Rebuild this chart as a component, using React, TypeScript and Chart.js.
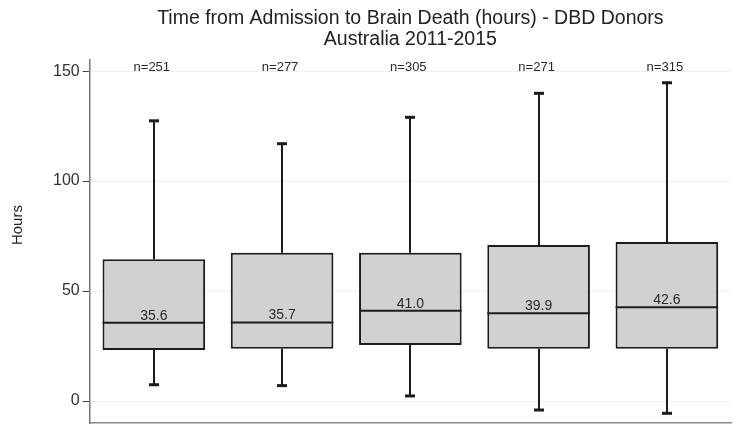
import React, { useEffect, useRef } from "react";
import { Chart, registerables } from "chart.js";

Chart.register(...registerables);

// Admission-to-brain-death times (hours), DBD donors by year
const years = ["2011", "2012", "2013", "2014", "2015"];
const donorCounts = [251, 277, 305, 271, 315];
const whiskerLow = [7.4, 7.0, 2.3, -4.1, -5.6];
const quartile1 = [23.2, 23.8, 25.5, 23.8, 23.8];
const medians = [35.6, 35.7, 41.0, 39.9, 42.6];
const quartile3 = [64.4, 67.4, 67.4, 70.9, 72.3];
const whiskerHigh = [127.4, 117.0, 129.0, 139.9, 144.7];
const yTickValues = [0, 50, 100, 150];
const yAxisTitle = "Hours";

const FONT = "'Liberation Sans', Arial, Helvetica, sans-serif";
const INK = "#1c1c1c";

// Draws whiskers, caps, median lines and the text annotations of each box
const boxDetailsPlugin = {
  id: "boxDetails",
  beforeDatasetsDraw(chart: any) {
    const { ctx, scales } = chart;
    const x = scales.x;
    const y = scales.y;
    ctx.save();
    ctx.strokeStyle = INK;
    years.forEach((_, i) => {
      const cx = Math.round(x.getPixelForValue(i));
      const segs: [number, number][] = [
        [quartile3[i], whiskerHigh[i]],
        [quartile1[i], whiskerLow[i]],
      ];
      segs.forEach(([from, to]) => {
        ctx.lineWidth = 2;
        ctx.beginPath();
        ctx.moveTo(cx, y.getPixelForValue(from));
        ctx.lineTo(cx, y.getPixelForValue(to));
        ctx.stroke();
        ctx.lineWidth = 3;
        ctx.beginPath();
        ctx.moveTo(cx - 5, y.getPixelForValue(to));
        ctx.lineTo(cx + 5, y.getPixelForValue(to));
        ctx.stroke();
      });
    });
    ctx.restore();
  },
  afterDatasetsDraw(chart: any) {
    const { ctx, scales } = chart;
    const x = scales.x;
    const y = scales.y;
    const meta = chart.getDatasetMeta(0);
    ctx.save();
    years.forEach((_, i) => {
      const bar = meta.data[i];
      const half = bar.width / 2;
      const cx = x.getPixelForValue(i);
      const my = y.getPixelForValue(medians[i]);
      ctx.strokeStyle = INK;
      ctx.lineWidth = 2;
      ctx.beginPath();
      ctx.moveTo(cx - half, my);
      ctx.lineTo(cx + half, my);
      ctx.stroke();

      ctx.fillStyle = "#2a2a2a";
      ctx.textAlign = "center";
      ctx.textBaseline = "alphabetic";
      ctx.font = `14px ${FONT}`;
      ctx.fillText(medians[i].toFixed(1), cx, my - 3);

      ctx.font = `13px ${FONT}`;
      ctx.fillText(`n=${donorCounts[i]}`, cx - 2, y.getPixelForValue(150));
    });

    // vertical axis title, set slightly above the middle of the axis
    ctx.translate(18, y.getPixelForValue(80));
    ctx.rotate(-Math.PI / 2);
    ctx.font = `15px ${FONT}`;
    ctx.fillStyle = "#222";
    ctx.textAlign = "center";
    ctx.textBaseline = "middle";
    ctx.fillText(yAxisTitle, 0, 0);
    ctx.restore();
  },
};

export default function App() {
  const canvasRef = useRef<HTMLCanvasElement | null>(null);

  useEffect(() => {
    if (!canvasRef.current) return;
    const chart = new Chart(canvasRef.current, {
      type: "bar",
      data: {
        labels: years,
        datasets: [
          {
            label: "Interquartile range",
            data: years.map((_, i) => [quartile1[i], quartile3[i]]),
            backgroundColor: "#d1d1d1",
            borderColor: INK,
            borderWidth: 2,
            borderSkipped: false,
            barPercentage: 0.8,
            categoryPercentage: 1,
          },
        ],
      },
      options: {
        responsive: false,
        animation: false,
        layout: { padding: { left: 50, right: 5, top: 0, bottom: 3 } },
        plugins: {
          legend: { display: false },
          tooltip: { enabled: false },
          title: {
            display: true,
            fullSize: false,
            text: [
              "Time from Admission to Brain Death (hours) - DBD Donors",
              "Australia 2011-2015",
            ],
            color: "#222",
            font: { family: FONT, size: 19.5, weight: "normal", lineHeight: 1.08 },
            padding: { top: 8, bottom: 10 },
          },
        },
        scales: {
          x: {
            type: "category",
            offset: true,
            ticks: { display: false },
            grid: { display: false, drawTicks: false },
            border: { display: true, color: "#8a8a8a", width: 1.5 },
          },
          y: {
            min: -10,
            max: 155,
            afterBuildTicks: (scale: any) => {
              scale.ticks = yTickValues.map((v) => ({ value: v }));
            },
            afterFit: (scale: any) => {
              // tick labels sit well inside the range, so no end padding is needed
              scale.paddingTop = 0;
              scale.paddingBottom = 0;
            },
            ticks: {
              color: "#333",
              font: { family: FONT, size: 16 },
              padding: 3,
            },
            grid: {
              color: "#f1f1f1",
              lineWidth: 1,
              tickColor: "#444",
              tickLength: 7,
            },
            border: { display: true, color: "#777", width: 1.5 },
          },
        },
      },
      plugins: [boxDetailsPlugin],
    });
    return () => chart.destroy();
  }, []);

  return (
    <div style={{ position: "fixed", left: 0, top: 0, width: 736, height: 426, background: "#fff" }}>
      <canvas ref={canvasRef} width={736} height={426} style={{ display: "block" }} />
    </div>
  );
}
